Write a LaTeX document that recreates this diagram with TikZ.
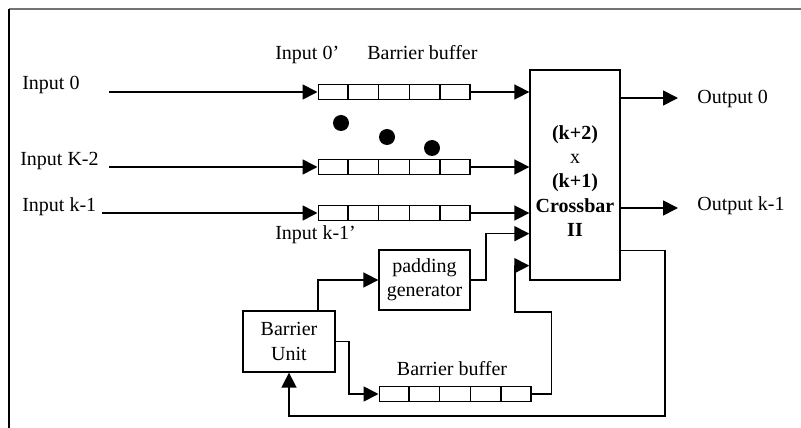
\documentclass[tikz,border=0pt]{standalone}
\usepackage{fontspec}
\setmainfont{Liberation Serif}
\usepackage{tikz}
\usetikzlibrary{positioning,arrows.meta,calc}

\begin{document}
\begin{tikzpicture}[
                x=0.6pt, y=-0.6pt,
                font=\fontsize{12}{14.5}\selectfont,
                >={Triangle[length=9pt,width=9pt]},
                box/.style={rectangle, draw, line width=0.8pt, inner sep=0pt, align=center},
                buffer/.style={rectangle, draw, line width=0.8pt, minimum width=91pt, minimum height=9pt, inner sep=0pt},
                arrow/.style={->, line width=1pt},
                txt/.style={inner sep=0pt, anchor=base west},
                dot/.style={circle, fill=black, inner sep=0pt, minimum size=9.6pt}
                ]
                \useasboundingbox (0,0) rectangle (801,428);
                \draw[black!55, line width=1pt] (9,9) -- (801,9);
                \draw[line width=0.8pt] (9,9) -- (9,428);

                % crossbar and its input buffers
                \node[box, minimum width=54pt, minimum height=126pt] (xbar) at (575,175) {};
                \node[align=center, inner sep=0pt] (xbartext) at (575,181) {\textbf{(k+2)}\\x\\\textbf{(k+1)}\\\textbf{Crossbar}\\\textbf{II}};

                \node[buffer] (buf0) at (394,92) {};
                \node[buffer] (bufK) at (394,167) {};
                \node[buffer] (bufk) at (394,213) {};
                \node[buffer] (bufB) at (455,394) {};
                \foreach \b in {buf0,bufK,bufk,bufB}
                    \foreach \i in {1,...,4}
                        \draw[line width=0.8pt] ($(\b.south west)!\i/5!(\b.south east)$) -- ($(\b.north west)!\i/5!(\b.north east)$);

                \node[txt] (in0) at (22,90) {Input 0};
                \node[txt] (inK) at (20,166) {Input K-2};
                \node[txt] (ink) at (22,212) {Input k-1};
                \node[txt] (in0p) at (275,60) {Input 0'};
                \node[txt] (bblabel) at (367,60) {Barrier buffer};
                \node[txt] (inkp) at (275,240) {Input k-1'};

                \foreach \x/\y [count=\n] in {341/123, 387/137, 432/148}
                    \node[dot] (dot\n) at (\x,\y) {};

                % padding path and barrier unit
                \node[box, minimum width=54.6pt, minimum height=36pt] (pad) at (424.5,280) {padding\\generator};
                \node[box, minimum width=55.2pt, minimum height=36.6pt] (bu) at (289,341.5) {Barrier\\Unit};
                \node[txt, anchor=base] (bulabel) at (452,376) {Barrier buffer};

                \node[txt] (out0) at (697,104) {Output 0};
                \node[txt] (outk) at (697,211) {Output k-1};

                \coordinate (i0) at (109,92);
                \coordinate (iK) at (109,167);
                \coordinate (ik) at (102,213);
                \coordinate (o0) at (678,98);
                \coordinate (ok) at (678,208);
                \coordinate (fb) at (515,312);
                \coordinate (loop) at (665,416);

                \draw[arrow] (i0) -- (buf0.west);
                \draw[arrow] (iK) -- (bufK.west);
                \draw[arrow] (ik) -- (bufk.west);
                \draw[arrow] (buf0.east) -- (buf0.east -| xbar.west);
                \draw[arrow] (bufK.east) -- (bufK.east -| xbar.west);
                \draw[arrow] (bufk.east) -- (bufk.east -| xbar.west);
                \draw[arrow] (xbar.east |- o0) -- (o0);
                \draw[arrow] (xbar.east |- ok) -- (ok);

                \draw[arrow] ($(bu.north)+(29,0)$) |- (pad.west);
                \draw[arrow] (pad.east) -- ++(15,0) |- ($(xbar.south west)+(0,-47)$);
                \draw[arrow] (bu.east) -- ++(13,0) |- (bufB.west);
                \draw[arrow] (bufB.east) -- ++(20,0) |- (fb) |- ($(xbar.south west)+(0,-15)$);
                \draw[arrow] ($(xbar.south east)+(0,-30)$) -| (loop) -| (bu.south);
            \end{tikzpicture}
\end{document}
